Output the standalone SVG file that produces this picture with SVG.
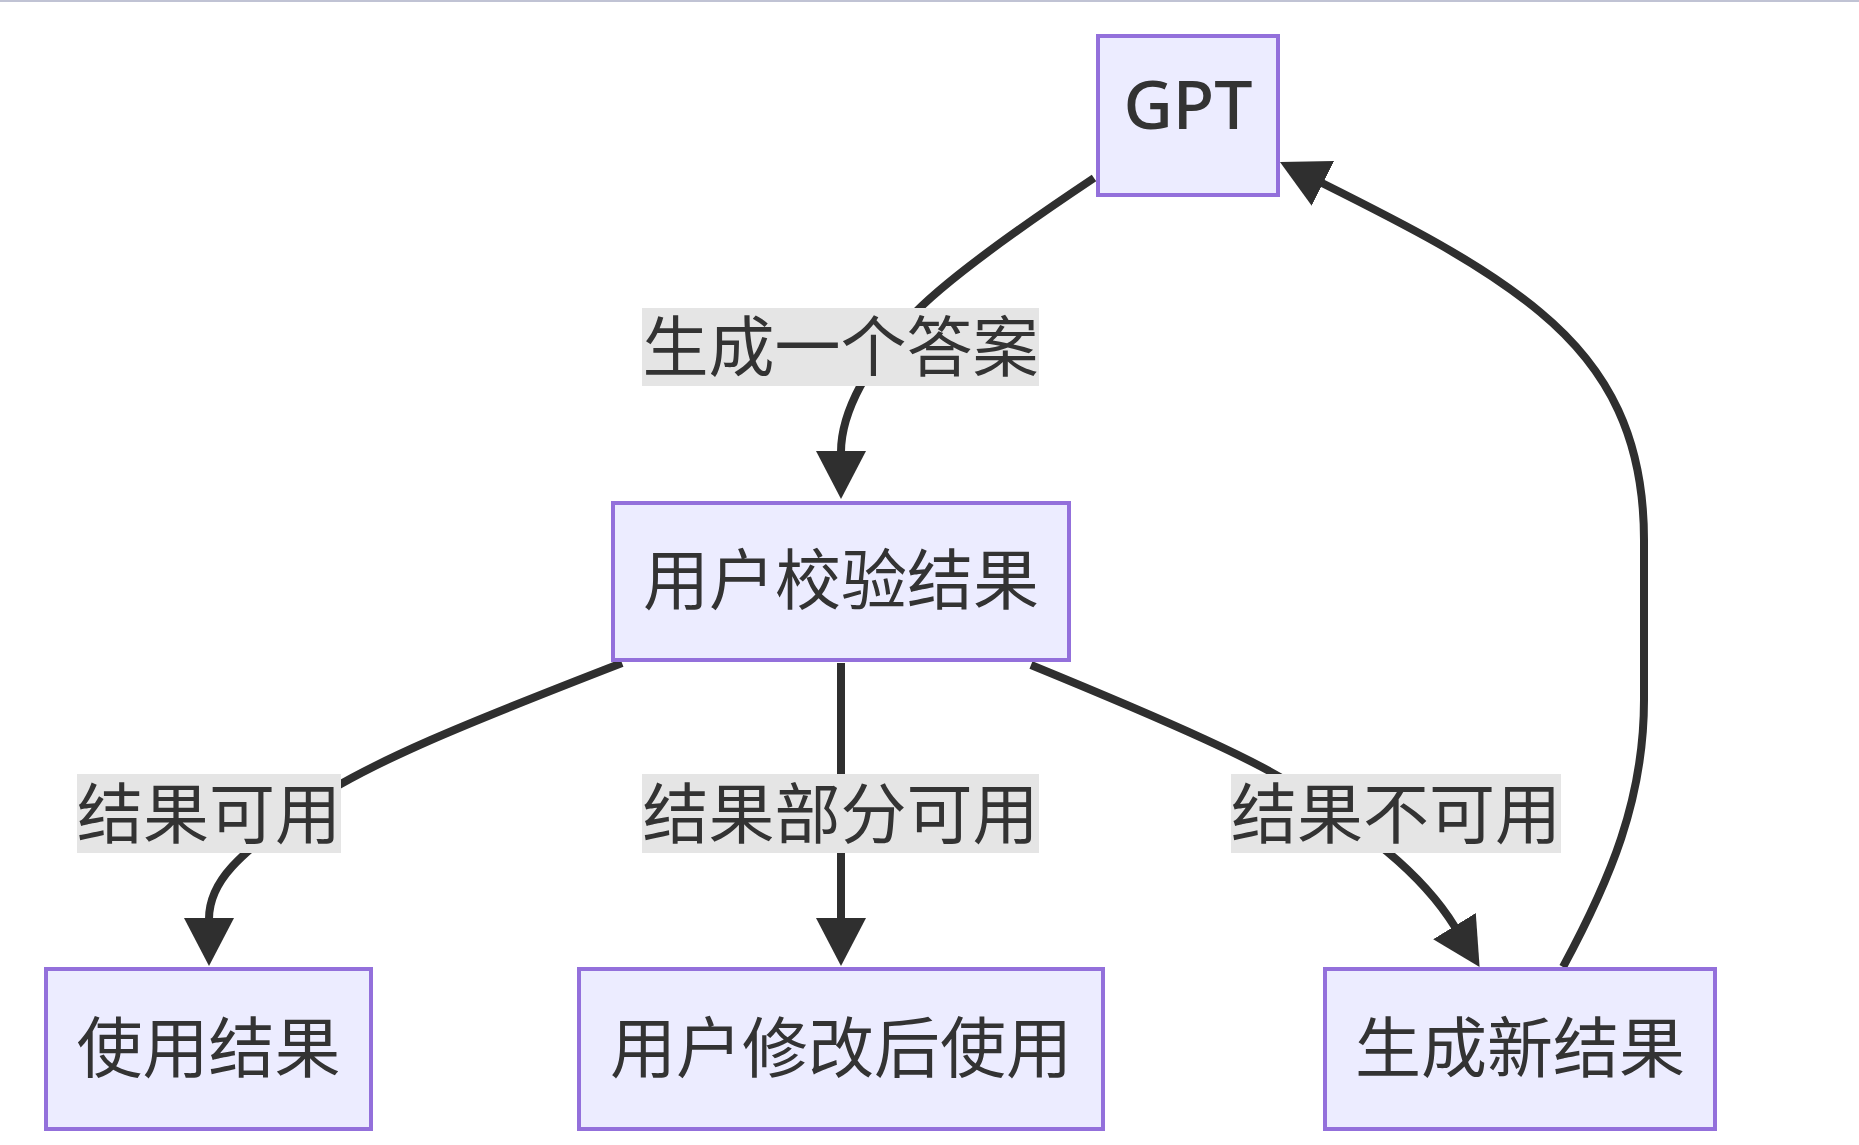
<svg xmlns="http://www.w3.org/2000/svg" width="1859" height="1145" viewBox="0 0 1859 1145">
<style>
.node rect{fill:#ECECFF;stroke:#9370DB;stroke-width:4}
.node text,.label text{font-family:"Noto Sans CJK SC","Noto Sans",sans-serif;font-size:66px;fill:#333;text-anchor:middle}
.node text.latin{font-family:"Noto Sans","Noto Sans CJK SC",sans-serif;font-size:68px;font-weight:500}
.label rect{fill:#e5e5e5}
.edge{fill:none;stroke:#2f2f2f;stroke-width:8}
</style>
<defs>
<marker id="arrow" markerUnits="userSpaceOnUse" viewBox="0 0 48 50" refX="1" refY="25" markerWidth="48" markerHeight="50" orient="auto">
<path d="M0,0 L48,25 L0,50 Z" fill="#2f2f2f"/>
</marker>
</defs>
<rect x="0" y="0" width="1859" height="1145" fill="#ffffff"/>
<rect x="0" y="0" width="1859" height="2" fill="#c0c3d4"/>
<g id="connectors">
<path class="edge" d="M1094,178 C1010,234 940,285 910,318 C870,362 841,410 841,452" marker-end="url(#arrow)"/>
<path class="edge" d="M622,663 C480,718 360,765 300,810 S209,880 209,919" marker-end="url(#arrow)"/>
<path class="edge" d="M841,663 L841,919" marker-end="url(#arrow)"/>
<path class="edge" d="M1031,665 C1170,722 1265,764 1300,790 C1360,828 1420,870 1455,927" marker-end="url(#arrow)"/>
<path class="edge" d="M1563,967 C1610,880 1644,800 1644,700 L1644,540 C1644,440 1610,370 1540,312 C1480,262 1400,222 1322,183" marker-end="url(#arrow)"/>
</g>
<g id="edge-labels">
<g id="label-gen" class="label"><rect x="642" y="308" width="397" height="78"/><text x="840.5" y="371">生成一个答案</text></g>
<g id="label-ok" class="label"><rect x="77" y="774" width="264" height="79"/><text x="209" y="838">结果可用</text></g>
<g id="label-partial" class="label"><rect x="642" y="774" width="397" height="79"/><text x="840.5" y="838">结果部分可用</text></g>
<g id="label-bad" class="label"><rect x="1231" y="774" width="330" height="79"/><text x="1396" y="838">结果不可用</text></g>
</g>
<g id="node-gpt" class="node"><rect x="1098" y="36" width="180" height="159"/><text class="latin" x="1188" y="129">GPT</text></g>
<g id="node-check" class="node"><rect x="613" y="503" width="456" height="157"/><text x="841" y="604">用户校验结果</text></g>
<g id="node-use" class="node"><rect x="46" y="969" width="325" height="160"/><text x="208.5" y="1072">使用结果</text></g>
<g id="node-modify" class="node"><rect x="579" y="969" width="524" height="160"/><text x="841" y="1072">用户修改后使用</text></g>
<g id="node-new" class="node"><rect x="1325" y="969" width="390" height="160"/><text x="1520" y="1072">生成新结果</text></g>
</svg>
